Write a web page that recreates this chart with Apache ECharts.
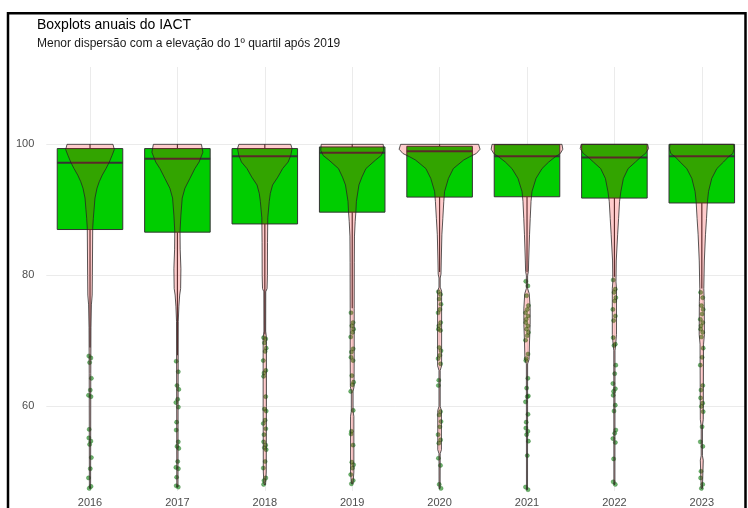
<!DOCTYPE html>
<html>
<head>
<meta charset="utf-8">
<script src="https://cdn.jsdelivr.net/npm/echarts@6/dist/echarts.min.js"></script>
<style>
  html, body { margin: 0; padding: 0; background: #ffffff; }
  #chart { width: 748px; height: 508px; }
</style>
</head>
<body>
<div id="chart"></div>
<script>
// ---- Data -------------------------------------------------------------
const years = ['2016', '2017', '2018', '2019', '2020', '2021', '2022', '2023'];

// box statistics per year
const q1         = [87.0, 86.6, 87.85, 89.65, 91.95, 92.0, 91.8, 91.05];
const median     = [97.2, 97.8, 98.2, 98.7, 98.95, 98.2, 98.0, 98.2];
const q3         = [99.35, 99.35, 99.35, 99.6, 99.7, 99.95, 100, 100];
const whiskerLow = [69.0, 67.8, 71.0, 75.0, 80.5, 80.5, 79.8, 78.0];
const whiskerHigh = [100, 100, 100, 100, 100, 100, 100, 100];

// outliers below the lower whisker
const out2016 = [67.7, 67.4, 66.7, 64.3, 62.5, 61.7, 61.5, 56.5, 55.2, 54.7, 54.2, 52.2, 50.5, 49.1, 47.8, 47.5];
const out2017 = [66.9, 65.3, 63.2, 62.6, 61.1, 60.6, 59.9, 57.6, 56.4, 54.6, 53.9, 53.6, 51.6, 50.7, 50.5, 49.2, 47.9, 47.7];
const out2018 = [70.5, 70.3, 69.7, 68.9, 68.4, 67.0, 65.5, 65.1, 64.6, 61.5, 59.6, 59.3, 57.9, 57.4, 56.6, 55.7, 54.6, 54.1, 53.7, 53.4, 51.6, 50.6, 49.1, 48.7, 48.1];
const out2019 = [74.3, 72.8, 72.3, 71.8, 71.3, 70.6, 68.8, 68.3, 67.5, 67.0, 64.7, 63.7, 63.3, 62.3, 59.4, 56.2, 55.8, 54.1, 51.5, 51.1, 50.6, 49.6, 48.7, 48.2];
const out2020 = [77.5, 77.1, 76.4, 75.6, 74.8, 74.3, 72.8, 72.3, 71.8, 71.6, 69.0, 68.5, 67.8, 67.3, 66.5, 64.0, 63.2, 59.2, 58.7, 57.7, 56.9, 55.7, 54.9, 54.4, 52.1, 51.0, 48.1, 47.5];
const out2021 = [79.1, 78.4, 76.9, 75.4, 74.8, 74.3, 73.8, 73.3, 72.8, 72.3, 71.8, 71.3, 70.8, 70.1, 68.0, 67.3, 67.0, 64.3, 62.8, 61.6, 61.5, 60.7, 58.8, 57.6, 56.7, 56.2, 55.7, 54.7, 52.5, 47.7, 47.3];
const out2022 = [79.3, 77.9, 77.4, 76.6, 76.1, 74.8, 73.8, 73.1, 70.5, 69.5, 69.3, 66.3, 65.0, 63.5, 62.7, 62.3, 61.7, 60.2, 59.3, 56.4, 55.9, 55.1, 54.5, 52.0, 48.5, 48.1];
const out2023 = [77.4, 76.6, 75.4, 74.8, 74.1, 73.3, 72.8, 72.3, 71.8, 71.3, 70.6, 68.9, 67.5, 66.3, 63.2, 62.5, 61.3, 60.5, 60.0, 59.2, 56.9, 54.6, 53.9, 50.1, 49.1, 48.1, 47.5];

// violin profiles: [value, half-width as a fraction of the category band]
const vio2016 = [[100, 0.263], [99.2, 0.278], [98.3, 0.252], [97.3, 0.221], [96.3, 0.183], [95.3, 0.140], [94.3, 0.106], [93.3, 0.080], [91.8, 0.057], [90, 0.046], [88.7, 0.038], [87.2, 0.031], [80, 0.027], [77, 0.025], [75.5, 0.016], [72, 0.011], [65, 0.009], [47.5, 0.007]];
const vio2017 = [[100, 0.275], [98.8, 0.292], [97.3, 0.248], [96.3, 0.200], [94.8, 0.143], [93.3, 0.086], [91.8, 0.055], [89.2, 0.040], [86.7, 0.030], [84, 0.032], [81, 0.040], [78, 0.037], [77, 0.026], [75.3, 0.017], [73, 0.010], [60, 0.008], [47.7, 0.007]];
const vio2018 = [[100, 0.297], [99.35, 0.312], [98.3, 0.297], [97.3, 0.267], [96.3, 0.204], [95.0, 0.149], [93.8, 0.089], [92.5, 0.063], [91.3, 0.051], [88.8, 0.034], [85, 0.031], [80, 0.030], [78, 0.026], [77.5, 0.011], [71.5, 0.010], [70.5, 0.019], [60, 0.019], [50, 0.017], [48.1, 0.009]];
const vio2019 = [[100, 0.355], [99.1, 0.360], [98.3, 0.332], [97.6, 0.267], [96.3, 0.157], [95.0, 0.111], [93.8, 0.077], [91.3, 0.048], [89.7, 0.042], [88.2, 0.034], [86, 0.026], [82, 0.024], [75, 0.023], [68, 0.023], [63, 0.021], [62.3, 0.010], [59.3, 0.010], [58.5, 0.019], [50, 0.019], [48.2, 0.009]];
const vio2020 = [[100, 0.446], [99.25, 0.463], [98.6, 0.420], [98.1, 0.343], [97.6, 0.275], [96.3, 0.157], [94.8, 0.101], [92.8, 0.057], [91.3, 0.048], [88.7, 0.037], [86.2, 0.026], [82.2, 0.019], [80.2, 0.016], [79.6, 0.007], [78.2, 0.007], [77.6, 0.023], [66.2, 0.023], [65.5, 0.007], [60, 0.007], [59.4, 0.021], [53.4, 0.021], [52.8, 0.007], [47.5, 0.006]];
const vio2021 = [[100, 0.400], [99.25, 0.410], [98.6, 0.381], [98.1, 0.324], [97.3, 0.248], [96.3, 0.172], [94.8, 0.103], [92.8, 0.057], [91.3, 0.046], [88.7, 0.037], [86.2, 0.029], [82.2, 0.019], [80.6, 0.016], [80.0, 0.007], [78.0, 0.007], [77.2, 0.026], [75, 0.036], [72.5, 0.036], [70, 0.029], [67.2, 0.024], [66.5, 0.007], [47.3, 0.006]];
const vio2022 = [[100, 0.381], [99.35, 0.391], [98.6, 0.355], [98.1, 0.305], [97.3, 0.240], [96.3, 0.157], [94.8, 0.103], [92.8, 0.074], [91.3, 0.059], [88.7, 0.048], [86.2, 0.037], [82.2, 0.021], [79, 0.018], [78, 0.024], [71, 0.024], [69.5, 0.015], [68.5, 0.007], [48.1, 0.006]];
const vio2023 = [[100, 0.363], [99.35, 0.370], [98.6, 0.355], [98.1, 0.305], [97.3, 0.248], [96.3, 0.172], [94.8, 0.114], [92.8, 0.077], [91.3, 0.065], [88.7, 0.054], [86.2, 0.042], [82.2, 0.029], [78, 0.023], [76, 0.028], [71, 0.030], [69.5, 0.020], [58, 0.017], [57, 0.007], [52.5, 0.007], [51.8, 0.017], [47.5, 0.007]];

const yTicks = [60, 80, 100];

// ---- Assembly -----------------------------------------------------------
const outliers = [out2016, out2017, out2018, out2019, out2020, out2021, out2022, out2023];
const violins = [vio2016, vio2017, vio2018, vio2019, vio2020, vio2021, vio2022, vio2023];
const catIdx = years.map((_, i) => i);
const jitterPx = [-1.2, 0.9, -0.4, 1.4, 0.3, -1.5, 1.0, -0.8];

const outlierData = [];
outliers.forEach((arr, i) => {
  arr.forEach((v, k) => {
    outlierData.push({ value: [i, v], symbolOffset: [jitterPx[k % jitterPx.length], 0] });
  });
});

const GRID_COLOR = '#ebebeb';
const TEXT_COLOR = '#4d4d4d';
const FONT = '"Liberation Sans", Arial, sans-serif';

// box, median and whiskers
function renderBox(params, api) {
  const i = params.dataIndex;
  const band = api.size([1, 0])[0];
  const half = band * 0.75 / 2;
  const cx = api.coord([i, 0])[0];
  const yQ1 = api.coord([i, q1[i]])[1];
  const yQ3 = api.coord([i, q3[i]])[1];
  const yMed = api.coord([i, median[i]])[1];
  const yLo = api.coord([i, whiskerLow[i]])[1];
  const yHi = api.coord([i, whiskerHigh[i]])[1];
  const stroke = '#333333';
  return {
    type: 'group',
    children: [
      { type: 'line', shape: { x1: cx, y1: yQ1, x2: cx, y2: yLo }, style: { stroke: stroke, lineWidth: 1.1 } },
      { type: 'line', shape: { x1: cx, y1: yQ3, x2: cx, y2: yHi }, style: { stroke: stroke, lineWidth: 1.1 } },
      { type: 'rect', shape: { x: cx - half, y: yQ3, width: half * 2, height: yQ1 - yQ3 },
        style: { fill: '#00cd00', stroke: stroke, lineWidth: 1 } },
      { type: 'line', shape: { x1: cx - half, y1: yMed, x2: cx + half, y2: yMed },
        style: { stroke: stroke, lineWidth: 2 } }
    ]
  };
}

// translucent violin outline drawn on top of the box
function renderViolin(params, api) {
  const i = params.dataIndex;
  const prof = violins[i];
  const band = api.size([1, 0])[0];
  const right = [], left = [];
  prof.forEach(([v, w]) => {
    const p = api.coord([i, v]);
    right.push([p[0] + w * band, p[1]]);
    left.push([p[0] - w * band, p[1]]);
  });
  const pts = right.concat(left.reverse());
  return {
    type: 'polygon',
    shape: { points: pts },
    style: { fill: 'rgba(255,0,0,0.2)', stroke: 'rgba(35,35,35,0.85)', lineWidth: 0.9 }
  };
}

const chart = echarts.init(document.getElementById('chart'), null, { renderer: 'canvas' });

chart.setOption({
  animation: false,
  backgroundColor: '#ffffff',
  title: [
    { text: 'Boxplots anuais do IACT', left: 37, top: 18, padding: 0,
      textStyle: { fontFamily: FONT, fontSize: 14, fontWeight: 'normal', color: '#000000' } },
    { text: 'Menor dispersão com a elevação do 1º quartil após 2019', left: 37, top: 38, padding: 0,
      textStyle: { fontFamily: FONT, fontSize: 12, fontWeight: 'normal', color: '#1a1a1a' } }
  ],
  graphic: [
    { type: 'rect', shape: { x: 8, y: 13.3, width: 737.5, height: 520 },
      style: { fill: 'none', stroke: '#000000', lineWidth: 2.5 }, z: 100 }
  ],
  grid: { left: 46.3, right: 2.5, top: 67, bottom: 14.2, containLabel: false },
  xAxis: {
    type: 'value', min: -0.5, max: 7.5,
    axisLine: { show: false },
    axisTick: { show: false, customValues: catIdx },
    axisLabel: { customValues: catIdx, formatter: v => years[v], color: TEXT_COLOR,
      fontFamily: FONT, fontSize: 11, margin: 6 },
    splitLine: { show: true, lineStyle: { color: GRID_COLOR, width: 1 } }
  },
  yAxis: {
    type: 'value', min: 47.1, max: 111.8,
    axisLine: { show: false },
    axisTick: { show: false, customValues: yTicks },
    axisLabel: { customValues: yTicks, color: TEXT_COLOR, fontFamily: FONT, fontSize: 11, margin: 12 },
    splitLine: { show: true, lineStyle: { color: GRID_COLOR, width: 1 } }
  },
  series: [
    { type: 'custom', name: 'box', z: 2, renderItem: renderBox,
      data: catIdx.map(i => [i, median[i]]), encode: { x: 0, y: 1 } },
    { type: 'scatter', name: 'outliers', z: 3, data: outlierData, symbol: 'circle', symbolSize: 4.2,
      itemStyle: { color: 'rgba(30,140,30,0.8)', borderColor: 'rgba(0,90,0,0.7)', borderWidth: 0.5 } },
    { type: 'custom', name: 'violin', z: 4, renderItem: renderViolin,
      data: catIdx.map(i => [i, 100]), encode: { x: 0, y: 1 } }
  ]
});
</script>
</body>
</html>
